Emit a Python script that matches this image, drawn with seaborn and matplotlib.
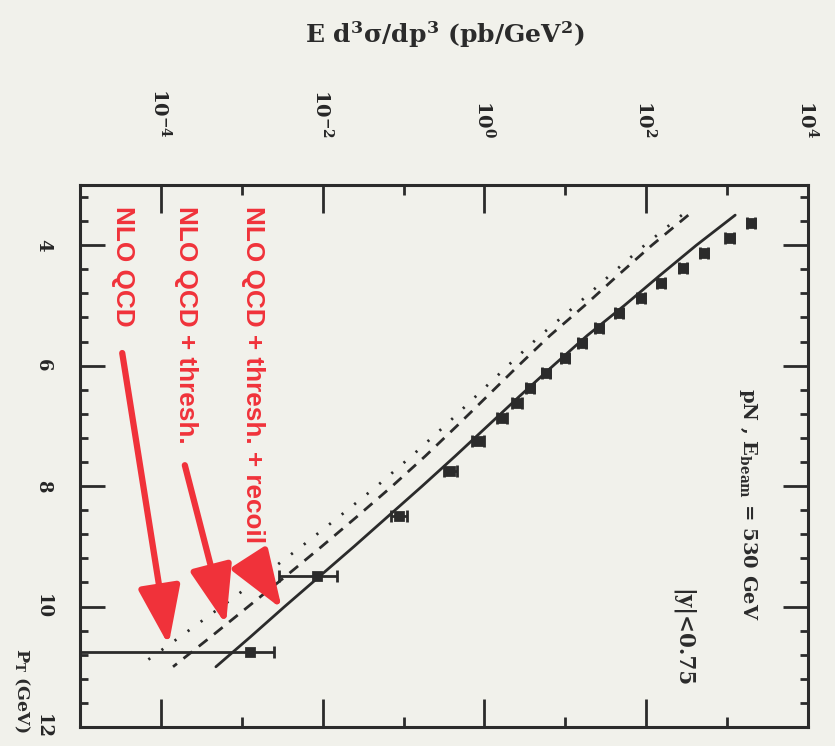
import numpy as np
import pandas as pd
import matplotlib
matplotlib.use("Agg")
import matplotlib.pyplot as plt
import seaborn as sns
from matplotlib.ticker import FixedLocator, NullFormatter

# E706-style direct photon data, pN at 530 GeV
pt_data = [3.625, 3.875, 4.125, 4.375, 4.625, 4.875, 5.125, 5.375, 5.625,
           5.875, 6.125, 6.375, 6.625, 6.875, 7.25, 7.75, 8.5, 9.5, 10.75]
sigma_log10 = [3.29, 3.03, 2.71, 2.45, 2.18, 1.93, 1.66, 1.42, 1.21,
               1.00, 0.76, 0.56, 0.40, 0.22, -0.08, -0.42, -1.06, -2.07, -2.90]
err_lo_log10 = [3.24, 2.98, 2.66, 2.40, 2.13, 1.88, 1.61, 1.37, 1.16,
                0.95, 0.71, 0.51, 0.34, 0.16, -0.15, -0.50, -1.16, -2.54, -6.00]
err_hi_log10 = [3.34, 3.08, 2.76, 2.50, 2.23, 1.98, 1.71, 1.47, 1.26,
                1.05, 0.81, 0.61, 0.46, 0.28, -0.01, -0.34, -0.96, -1.82, -2.60]

# theory curves
pt_curve = [3.5, 4.0, 4.5, 5.0, 5.5, 6.0, 6.5, 7.0, 7.5, 8.0, 8.5, 9.0,
            9.5, 10.0, 10.5, 11.0]
nlo_log10 = [2.44, 1.98, 1.55, 1.13, 0.69, 0.29, -0.10, -0.49, -0.90, -1.33,
             -1.79, -2.26, -2.75, -3.25, -3.76, -4.28]
thresh_log10 = [2.52, 2.07, 1.65, 1.24, 0.81, 0.42, 0.04, -0.34, -0.73, -1.14,
                -1.57, -2.01, -2.46, -2.92, -3.38, -3.85]
recoil_log10 = [3.10, 2.62, 2.17, 1.73, 1.27, 0.85, 0.44, 0.04, -0.36, -0.77,
                -1.19, -1.61, -2.04, -2.47, -2.89, -3.32]

curve_labels = ["NLO QCD", "NLO QCD + thresh.", "NLO QCD + thresh. + recoil"]
arrow_pt = [10.64, 10.30, 10.04]

sigma_major = [1e-4, 1e-2, 1e0, 1e2, 1e4]
sigma_minor = [1e-5, 1e-3, 1e-1, 1e1, 1e3]
sigma_tick_labels = [r"$10^{-4}$", r"$10^{-2}$", r"$10^{0}$", r"$10^{2}$", r"$10^{4}$"]
pt_major = [4, 6, 8, 10, 12]
pt_minor = [3.2, 3.6, 4.4, 4.8, 5.2, 5.6, 6.4, 6.8, 7.2, 7.6, 8.4, 8.8,
            9.2, 9.6, 10.4, 10.8, 11.2, 11.6]
pt_tick_labels = ["4", "6", "8", "10", "12"]

ink = "#2b2b2b"
red = "#f0323a"
paper = "#f1f1eb"

sns.set_theme(style="white")
plt.rcParams["font.family"] = ["DejaVu Serif"]
plt.rcParams["font.weight"] = "bold"
plt.rcParams["mathtext.fontset"] = "dejavuserif"
plt.rcParams["mathtext.default"] = "bf"

fig = plt.figure(figsize=(8.35, 7.46), dpi=100, facecolor=paper)
ax = fig.add_axes([80 / 835, 1 - 727 / 746, 728 / 835, 542 / 746])
ax.set_facecolor(paper)
ax.set_xscale("log")

curves = pd.DataFrame({
    "pt": pt_curve * 3,
    "sigma": 10 ** np.array(nlo_log10 + thresh_log10 + recoil_log10),
    "model": np.repeat(curve_labels, len(pt_curve)),
})
styles = {curve_labels[0]: (0, (0.8, 5.0)),
          curve_labels[1]: (0, (4.0, 3.0)),
          curve_labels[2]: "-"}
for name, grp in curves.groupby("model", sort=False):
    sns.lineplot(data=grp, x="sigma", y="pt", sort=False, estimator=None,
                 color=ink, lw=2.0, linestyle=styles[name], ax=ax, legend=False)

sig = 10 ** np.array(sigma_log10)
lo = 10 ** np.array(err_lo_log10)
hi = 10 ** np.array(err_hi_log10)
ax.errorbar(sig, pt_data, xerr=[sig - lo, hi - sig], fmt="none",
            ecolor=ink, elinewidth=2.0, capsize=4, capthick=2.0)
sns.scatterplot(x=sig, y=pt_data, marker="s", s=48, color=ink,
                edgecolor=ink, ax=ax, legend=False, zorder=3)

ax.set_xlim(1e-5, 1e4)
ax.set_ylim(12, 3)

ax.xaxis.set_major_locator(FixedLocator(sigma_major))
ax.xaxis.set_minor_locator(FixedLocator(sigma_minor))
ax.xaxis.set_minor_formatter(NullFormatter())
ax.yaxis.set_major_locator(FixedLocator(pt_major))
ax.yaxis.set_minor_locator(FixedLocator(pt_minor))
ax.set_xticklabels(sigma_tick_labels, rotation=-90, va="bottom", ha="center",
                   fontsize=14)
ax.set_yticklabels(pt_tick_labels, rotation=-90, va="center", ha="right",
                   fontsize=13, fontweight="bold")
ax.tick_params(which="both", direction="in", top=True, bottom=True,
               left=True, right=True, labeltop=True, labelbottom=False,
               labelleft=True, labelright=False, color=ink, width=2.0)
ax.tick_params(axis="x", which="major", length=20, pad=34)
ax.tick_params(axis="x", which="minor", length=7)
ax.tick_params(axis="y", which="major", length=18, pad=20)
ax.tick_params(axis="y", which="minor", length=6)
for s in ax.spines.values():
    s.set_color(ink)
    s.set_linewidth(2.2)
ax.set_xlabel("")
ax.set_ylabel("")

fig.text(445 / 835, 1 - 35 / 746, r"E d$^3\sigma$/dp$^3$ (pb/GeV$^2$)",
         ha="center", va="center", fontsize=18, fontweight="bold", color=ink)
fig.text(22 / 835, 1 - 648 / 746, r"P$_T$ (GeV)", rotation=-90,
         ha="center", va="top", fontsize=12.5, fontweight="bold", color=ink)

ax.text(0.918, 0.625, r"pN , E$_{beam}$ = 530 GeV", rotation=-90,
        transform=ax.transAxes, ha="center", va="top", fontsize=14,
        fontweight="bold", color=ink)
ax.text(0.827, 0.255, r"|y|<0.75", rotation=-90, transform=ax.transAxes,
        ha="center", va="top", fontsize=15.5, fontweight="bold", color=ink)

# red captions with arrows onto each curve
label_x = [0.059, 0.146, 0.238]
tail_y = [0.69, 0.483, 0.300]
tail_x = [0.058, 0.144, 0.238]
for lab, lx, tx, ty, apt, clog in zip(curve_labels, label_x, tail_x, tail_y,
                                      arrow_pt,
                                      [nlo_log10, thresh_log10, recoil_log10]):
    ax.text(lx, 0.962, lab, rotation=-90, transform=ax.transAxes,
            ha="center", va="top", fontsize=18.8, fontweight="bold",
            family=["Liberation Sans", "DejaVu Sans"], color=red)
    tip = 10 ** np.interp(apt, pt_curve, clog)
    ax.annotate("", xy=(tip, apt), xycoords="data", xytext=(tx, ty),
                textcoords="axes fraction",
                arrowprops=dict(arrowstyle="-|>,head_length=1.8,head_width=0.65",
                                color=red, lw=4.5, mutation_scale=20,
                                shrinkA=0, shrinkB=0))

fig.savefig("out.png", dpi=100, facecolor=paper)
